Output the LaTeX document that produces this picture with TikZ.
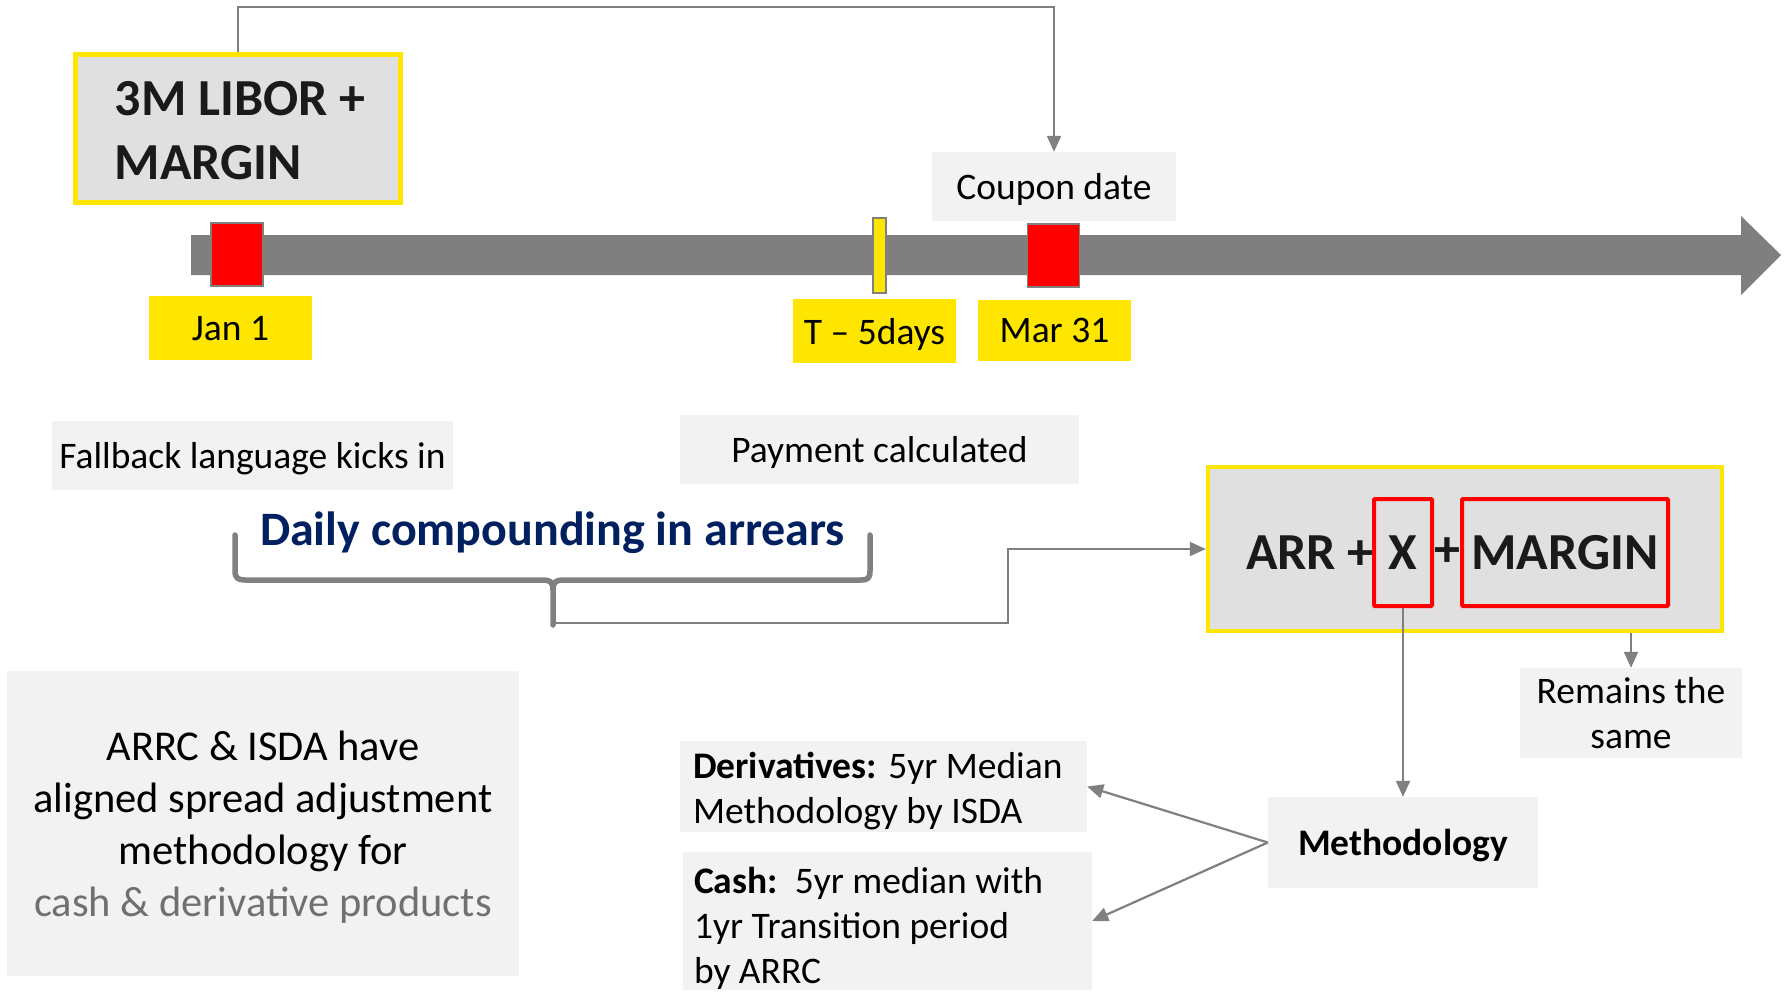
\documentclass[tikz,border=0pt]{standalone}
\usepackage{fontspec}
\setmainfont{Carlito}
\usetikzlibrary{arrows.meta,calc}

\definecolor{barfill}{HTML}{7F7F7F}
\definecolor{hiyellow}{HTML}{FFE600}
\definecolor{panel}{HTML}{F2F2F2}
\definecolor{panelmid}{HTML}{E0E0E0}
\definecolor{navy}{HTML}{002060}
\definecolor{linkgray}{HTML}{808080}
\definecolor{softtext}{HTML}{707070}
\definecolor{inkdark}{HTML}{1A1A1A}

\newcommand\fsz[2]{\fontsize{#1bp}{#2bp}\selectfont}

\begin{document}
\begin{tikzpicture}[x=1bp,y=-1bp,
  sz/.style 2 args={minimum width=#1bp, minimum height=#2bp},
  panelbox/.style={fill=panel, inner sep=0pt, align=center, text depth=0pt, font=\fsz{37.5}{45}},
  panelfill/.style={fill=panel, inner sep=0pt},
  notetext/.style={inner sep=0pt, align=flush left, font=\fsz{37.5}{45}},
  datetag/.style={fill=hiyellow, inner sep=0pt, text depth=0pt, font=\fsz{37.5}{45}},
  formula/.style={fill=panelmid, draw=hiyellow, line width=4.5bp, inner sep=0pt},
  bigtext/.style={font=\bfseries\fsz{52}{64}, text=inkdark, inner sep=0pt},
  redframe/.style={draw=red, line width=4bp, rounded corners=1bp, inner sep=0pt},
  tickmark/.style={fill=red, draw=linkgray, line width=1.5bp, inner sep=0pt},
  link/.style={draw=linkgray, line width=2.2bp, -{Triangle[length=16bp,width=14bp]}},
  bracepath/.style={draw=linkgray, line width=5.5bp, line join=round, line cap=round}]

\useasboundingbox (0,0) rectangle (1789,991);

% timeline bar with its arrow head
\fill[barfill] (191,235) -- (1741,235) -- (1741,216) -- (1781,255) -- (1741,295)
  -- (1741,275) -- (191,275) -- cycle;

% dates on the timeline
\node[tickmark, sz={52}{63}] (jan) at (237,254.5) {};
\node[tickmark, sz={52}{63}] (mar) at (1053.5,255.5) {};
\node[fill=hiyellow, draw=linkgray, line width=1.5bp, inner sep=0pt, sz={13}{75}] (tfive) at (879.5,255.5) {};

\node[datetag, sz={163}{64}] (janlab) at (230.5,328) {Jan 1};
\node[datetag, sz={163}{64}] (tlab) at (874.5,331) {T -- 5days};
\node[datetag, sz={153}{61}] (marlab) at (1054.5,330.5) {Mar 31};
\node[panelbox, sz={244}{69}] (coupon) at (1054,186.5) {Coupon date};

% current rate
\node[formula, sz={325}{148}] (libor) at (238,128.5) {};
\node[bigtext, align=left, yshift=-2.5bp, xshift=2bp] (libortext) at (libor.center) {3M LIBOR +\\MARGIN};

\coordinate (topturn) at (1054,7);
\draw[link] (libor.north) |- (topturn) -- (coupon.north);

% notes under the timeline
\node[panelbox, sz={401}{69}] (fallback) at (252.5,455.5) {Fallback language kicks in};
\node[panelbox, sz={399}{69}] (payment) at (879.5,449.5) {Payment calculated};

\node[font=\bfseries\fsz{48}{56}, text=navy, anchor=base, inner sep=0pt] (daily) at (552.5,545)
  {Daily compounding in arrears};

% brace under the compounding period, with its stem
\draw[bracepath] (235,535) -- (235,571) .. controls (235,578) and (238,580) .. (245,580)
  -- (543,580) .. controls (550,580) and (553,582) .. (553,590) -- (553,625)
  -- (553,590) .. controls (553,582) and (556,580) .. (563,580) -- (861,580)
  .. controls (868,580) and (870,578) .. (870,571) -- (870,535);
\coordinate (bracetip) at (553,623);

% replacement rate
\node[formula, sz={514}{164}] (arr) at (1465,549) {};
\node[redframe, bigtext, sz={58}{107}] (xbox) at (1403,552.5) {X};
\node[redframe, bigtext, sz={206}{107}] (mbox) at (1565,552.5) {MARGIN};
\node[bigtext] (arrplus) at (1310,552.5) {ARR +};
\node[bigtext] (plustwo) at (1447,552.5) {+};

\coordinate (route) at (1008,623);
\draw[link] (bracetip) -- (route) |- (arr.west);

\node[panelbox, sz={222}{90}, text depth=-4bp] (remains) at (1631,713) {Remains the\\same};
\draw[link] (remains.north |- arr.south) -- (remains.north);

\node[panelbox, sz={270}{91}, font=\bfseries\fsz{37.5}{45}] (method) at (1403,842.5) {Methodology};
\draw[link] (xbox.south) -- (method.north);

\node[panelfill, sz={407}{91}] (deriv) at (883.5,786.5) {};
\node[notetext, text width=381bp, yshift=-4.5bp] (derivtext) at (deriv.center)
  {\textbf{Derivatives:} 5yr Median\\Methodology by ISDA};
\node[panelfill, sz={409}{138}] (cash) at (887.5,921) {};
\node[notetext, text width=387bp, yshift=-7bp] (cashtext) at (cash.center)
  {\textbf{Cash:}\ \ 5yr median with\\1yr Transition period\\by ARRC};

\draw[link] (method.west) -- (deriv.east);
\draw[link] (method.west) -- (cash.east);

% summary panel
\node[panelbox, sz={512}{305}, font=\fsz{42.5}{52}] (arrc) at (263,823.5)
  {ARRC \& ISDA have\\aligned spread adjustment\\methodology for\\\textcolor{softtext}{cash \& derivative products}};

\end{tikzpicture}
\end{document}
